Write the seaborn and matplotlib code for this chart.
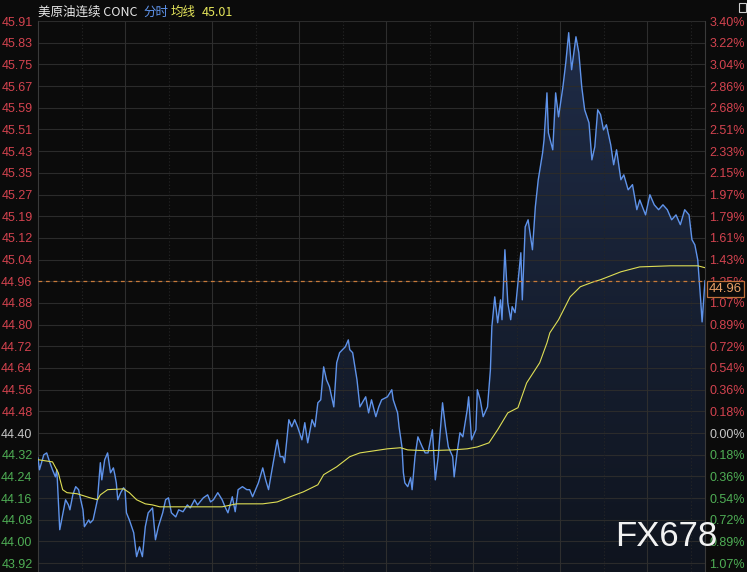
import numpy as np
import pandas as pd
import matplotlib
matplotlib.use('Agg')
import matplotlib.pyplot as plt
import matplotlib.transforms as mtrans
from matplotlib.colors import LinearSegmentedColormap
from matplotlib.patches import Rectangle
import seaborn as sns

# ---------------- data ----------------
minutes = [0, 1, 4, 6, 8, 10, 12, 13, 15, 17, 19, 21, 22, 24, 26, 28, 29, 31, 32, 35,
           36, 38, 41, 43, 44, 46, 48, 50, 52, 53, 54, 55, 57, 59, 60, 61, 63, 66, 67, 68,
           70, 72, 74, 76, 79, 81, 83, 86, 88, 90, 92, 95, 97, 100, 103, 105, 108, 110, 114, 117,
           119, 121, 124, 127, 129, 131, 134, 136, 138, 141, 144, 146, 148, 152, 155, 157, 159, 161, 165, 167,
           169, 170, 173, 175, 177, 179, 182, 184, 186, 189, 191, 193, 195, 197, 199, 201, 204, 206, 208, 212,
           214, 215, 217, 220, 222, 226, 228, 230, 233, 235, 237, 241, 244, 245, 248, 249, 251, 252, 253, 255,
           257, 258, 260, 262, 265, 267, 269, 272, 274, 276, 279, 281, 283, 286, 287, 289, 291, 293, 296, 297,
           299, 302, 303, 305, 307, 310, 312, 313, 315, 317, 319, 320, 322, 324, 326, 327, 329, 331, 333, 334,
           336, 338, 341, 343, 345, 348, 349, 351, 352, 355, 357, 359, 362, 364, 366, 368, 371, 373, 375, 377,
           380, 382, 384, 386, 388, 390, 392, 395, 397, 399, 402, 404, 407, 410, 413, 415, 419, 422, 425, 428,
           431, 434, 437, 440, 443, 446, 449, 451, 453, 455, 457, 458, 460]
prices = [44.309, 44.265, 44.320, 44.327, 44.294, 44.265, 44.239, 44.265, 44.045, 44.100,
          44.155, 44.136, 44.118, 44.173, 44.203, 44.192, 44.166, 44.118, 44.056, 44.081,
          44.070, 44.081, 44.155, 44.291, 44.228, 44.302, 44.327, 44.254, 44.272, 44.247,
          44.217, 44.155, 44.181, 44.199, 44.192, 44.107, 44.081, 44.034, 43.990, 43.946,
          43.982, 43.946, 44.056, 44.107, 44.125, 44.008, 44.056, 44.107, 44.155, 44.162,
          44.107, 44.092, 44.118, 44.111, 44.136, 44.125, 44.155, 44.136, 44.162, 44.173,
          44.147, 44.155, 44.181, 44.155, 44.129, 44.107, 44.166, 44.111, 44.192, 44.203,
          44.192, 44.192, 44.166, 44.217, 44.272, 44.228, 44.192, 44.254, 44.375, 44.313,
          44.313, 44.291, 44.449, 44.423, 44.449, 44.423, 44.375, 44.438, 44.364, 44.449,
          44.423, 44.511, 44.522, 44.643, 44.595, 44.570, 44.496, 44.658, 44.695, 44.717,
          44.742, 44.706, 44.695, 44.595, 44.496, 44.533, 44.474, 44.522, 44.460, 44.496,
          44.522, 44.533, 44.559, 44.522, 44.474, 44.423, 44.349, 44.254, 44.217, 44.203,
          44.236, 44.192, 44.313, 44.386, 44.349, 44.327, 44.327, 44.412, 44.228, 44.313,
          44.511, 44.423, 44.349, 44.313, 44.239, 44.327, 44.401, 44.386, 44.485, 44.533,
          44.375, 44.412, 44.559, 44.522, 44.460, 44.496, 44.632, 44.790, 44.900, 44.805,
          44.889, 44.816, 45.073, 44.878, 44.816, 44.864, 44.842, 44.952, 45.062, 44.889,
          45.157, 45.183, 45.073, 45.231, 45.330, 45.429, 45.477, 45.649, 45.502, 45.440,
          45.649, 45.561, 45.671, 45.760, 45.870, 45.734, 45.855, 45.796, 45.671, 45.587,
          45.539, 45.403, 45.451, 45.587, 45.569, 45.513, 45.532, 45.458, 45.385, 45.440,
          45.330, 45.348, 45.293, 45.312, 45.220, 45.256, 45.201, 45.275, 45.238, 45.220,
          45.238, 45.220, 45.183, 45.201, 45.165, 45.220, 45.201, 45.110, 45.091, 45.036,
          44.889, 44.808, 44.960]

avg_minutes = [0, 10, 14, 17, 20, 27, 36, 41, 43, 48, 59, 63, 68, 74, 79, 84, 127, 137, 155, 165,
               174, 183, 193, 197, 206, 215, 222, 241, 250, 255, 268, 286, 296, 303, 311, 317, 324, 331, 337, 346,
               351, 353, 359, 367, 374, 383, 388, 402, 415, 436, 455, 460]
avg_prices = [44.302, 44.294, 44.254, 44.192, 44.181, 44.177, 44.162, 44.155, 44.173, 44.192,
              44.195, 44.181, 44.155, 44.140, 44.136, 44.129, 44.129, 44.140, 44.140, 44.147,
              44.166, 44.184, 44.210, 44.247, 44.276, 44.313, 44.327, 44.342, 44.346, 44.338,
              44.335, 44.338, 44.342, 44.349, 44.364, 44.412, 44.474, 44.493, 44.584, 44.658,
              44.731, 44.768, 44.816, 44.900, 44.937, 44.955, 44.963, 44.992, 45.010, 45.014,
              45.014, 45.007]

left_labels = ['43.92', '44.00', '44.08', '44.16', '44.24', '44.32', '44.40', '44.48', '44.56',
               '44.64', '44.72', '44.80', '44.88', '44.96', '45.04', '45.12', '45.19', '45.27',
               '45.35', '45.43', '45.51', '45.59', '45.67', '45.75', '45.83', '45.91']
right_labels = ['1.07%', '0.89%', '0.72%', '0.54%', '0.36%', '0.18%', '0.00%', '0.18%', '0.36%',
                '0.54%', '0.72%', '0.89%', '1.07%', '1.25%', '1.43%', '1.61%', '1.79%', '1.97%',
                '2.15%', '2.33%', '2.51%', '2.68%', '2.86%', '3.04%', '3.22%', '3.40%']
tick_steps = list(range(-6, 20))
base_price = 44.40
tick_step = 0.07961
last_price = 44.96
avg_last = '45.01'
session_minutes = 460
header_name = '美原油连续 CONC'
header_mode = '分时'
header_avg = '均线'
watermark = 'FX678'

# ---------------- style ----------------
bg = '#0b0b0b'
sns.set_style('dark', rc={'axes.facecolor': bg, 'figure.facecolor': bg,
                          'axes.edgecolor': '#3a3a3a', 'grid.color': '#2a2a2a'})
plt.rcParams['font.family'] = ['Liberation Sans', 'DejaVu Sans']

W, H = 747, 572
fig = plt.figure(figsize=(W / 100, H / 100), dpi=100, facecolor=bg)
top_px = 433 - 21.68 * 19
ax = fig.add_axes([38 / W, 0, (705 - 38) / W, (H - top_px) / H])
ax.set_facecolor(bg)

ticks = [base_price + tick_step * k for k in tick_steps]
ytop = ticks[-1]
ybot = ticks[0] - tick_step * 0.41

df = pd.DataFrame({'minute': minutes, 'price': prices})
adf = pd.DataFrame({'minute': avg_minutes, 'avg': avg_prices})

# gradient fill under price line
poly = ax.fill_between(df['minute'], df['price'], ybot, color='none', lw=0)
grad = np.linspace(1, 0, 256).reshape(-1, 1)
cmap = LinearSegmentedColormap.from_list('g', ['#0f141e', '#1f2c47'])
im = ax.imshow(grad, extent=[0, session_minutes, ybot, ytop], aspect='auto',
               cmap=cmap, origin='upper', zorder=1, interpolation='bilinear')
im.set_clip_path(poly.get_paths()[0], transform=ax.transData)

# grid
for t in ticks:
    ax.axhline(t, color='#2b2b2b', lw=0.8, zorder=2)
for m in range(30, session_minutes, 30):
    if m % 60 == 0:
        ax.axvline(m, color='#2e2e2e', lw=0.8, zorder=2)
    else:
        ax.axvline(m, color='#262626', lw=0.8, ls=(0, (1, 2)), zorder=2)

sns.lineplot(data=df, x='minute', y='price', ax=ax, color='#5f93ea', lw=1.0, zorder=4)
sns.lineplot(data=adf, x='minute', y='avg', ax=ax, color='#dede55', lw=0.8, zorder=4)
ax.axhline(last_price, color='#c87a3a', lw=0.9, ls=(0, (3, 3)), zorder=5)

ax.set_xlim(0, session_minutes)
ax.set_ylim(ybot, ytop)
ax.set_xlabel('')
ax.set_ylabel('')
ax.set_xticks([])
ax.grid(False)
for s in ['top', 'bottom']:
    ax.spines[s].set_visible(False)
for s in ['left', 'right']:
    ax.spines[s].set_color('#3a3a3a')
    ax.spines[s].set_linewidth(0.8)

red, green, neutral = '#d4434f', '#4fae55', '#c8c8c8'
def col(k):
    return red if k > 0 else (green if k < 0 else neutral)

ax.set_yticks(ticks)
ax.set_yticklabels(left_labels)
ax.tick_params(axis='y', length=0, pad=4, labelsize=9)
for lab, k in zip(ax.get_yticklabels(), tick_steps):
    lab.set_color(col(k))

ax2 = ax.twinx()
ax2.set_ylim(ybot, ytop)
ax2.set_yticks(ticks)
ax2.set_yticklabels(right_labels)
ax2.tick_params(axis='y', length=0, pad=3, labelsize=9)
ax2.grid(False)
for s in ax2.spines.values():
    s.set_visible(False)
for lab, k in zip(ax2.get_yticklabels(), tick_steps):
    lab.set_color(col(k))

# current price box
trans = mtrans.blended_transform_factory(ax.transAxes, ax.transData)
ax2.text((709 - 38) / (705 - 38), last_price - tick_step * 0.12, f'{last_price:.2f}',
         transform=trans, ha='left', va='top', fontsize=9.5, color='#e8a066', zorder=10,
         bbox=dict(boxstyle='square,pad=0.15', facecolor='#0b0b0b', edgecolor='#c0703a', lw=0.9),
         clip_on=False)

# header
hy = 1 - 12 / H
cjk = ['Noto Sans CJK SC', 'DejaVu Sans']
fig.text(38 / W, hy, header_name, color='#e8e8e8', fontsize=9, va='center', ha='left', family=cjk)
fig.text(143 / W, hy, header_mode, color='#5f93ea', fontsize=9, va='center', ha='left', family=cjk)
fig.text(171 / W, hy, header_avg, color='#e4e45a', fontsize=9, va='center', ha='left', family=cjk)
fig.text(202 / W, hy, avg_last, color='#e4e45a', fontsize=9, va='center', ha='left', family=cjk)

# small icon top-right
fig.patches.append(Rectangle((739 / W, 1 - 12 / H), 7 / W, 9 / H, transform=fig.transFigure,
                             fill=False, edgecolor='#cfcfcf', lw=0.8))

# watermark
fig.text(666 / W, 1 - 536 / H, watermark, color='#f2f2f2', fontsize=25, ha='center', va='center',
         zorder=20)

fig.savefig('out.png', dpi=100, facecolor=bg)
